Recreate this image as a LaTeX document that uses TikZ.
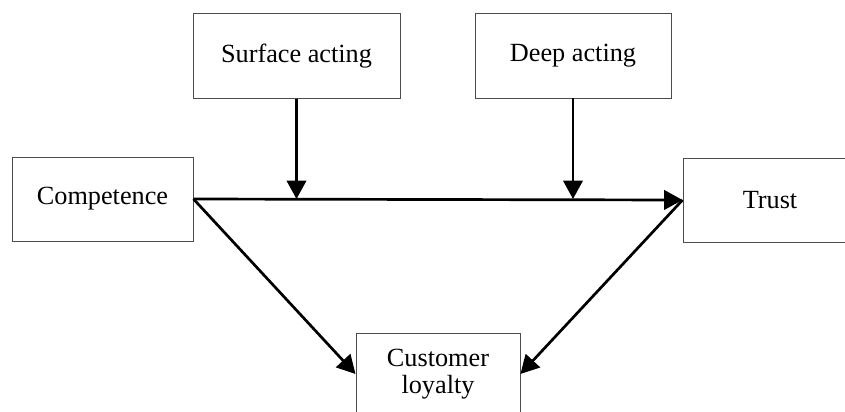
\documentclass[tikz,border=0pt]{standalone}
\usepackage{fontspec}
\setmainfont{Liberation Serif}
\usetikzlibrary{arrows.meta, positioning}
\tikzstyle{construct}=[draw=black!70,line width=0.8pt,rectangle,inner sep=0pt,align=center,font=\fontsize{22.4}{25}\selectfont]
\tikzstyle{effect}=[line width=2.3pt,-{Triangle[length=0.55cm,width=0.58cm]}]

\begin{document}
\begin{tikzpicture}[x=0.03cm,y=-0.03cm]
    \useasboundingbox (0,0) rectangle (845,411);
    \clip (0,0) rectangle (845,411);

    \node (surf)[construct,minimum width=6.21cm,minimum height=2.55cm] at (296.5, 56) {Surface acting};
    \node (deep)[construct,minimum width=5.88cm,minimum height=2.55cm] at (573, 55.5) {Deep acting};

    \node (comp)[construct,minimum width=5.43cm,minimum height=2.52cm] at (102.5, 199) {Competence};
    \node (trust)[construct,minimum width=5.22cm,minimum height=2.52cm] at (770, 200) {Trust};

    \node (loyal)[construct,minimum width=4.92cm,minimum height=2.46cm] at (438, 374) {Customer\\[-2pt]loyalty};

    \coordinate (s1) at (surf.south |- comp.east);
    \coordinate (d1) at (deep.south |- comp.east);

    \draw[effect] (comp.east) -- (trust.west);
    \draw[effect] (surf.south) -- (s1);
    \draw[effect] (deep.south) -- (d1);

    \draw[effect] (comp.east) -- (loyal.west);
    \draw[effect] (trust.west) -- (loyal.east);

\end{tikzpicture}
\end{document}
